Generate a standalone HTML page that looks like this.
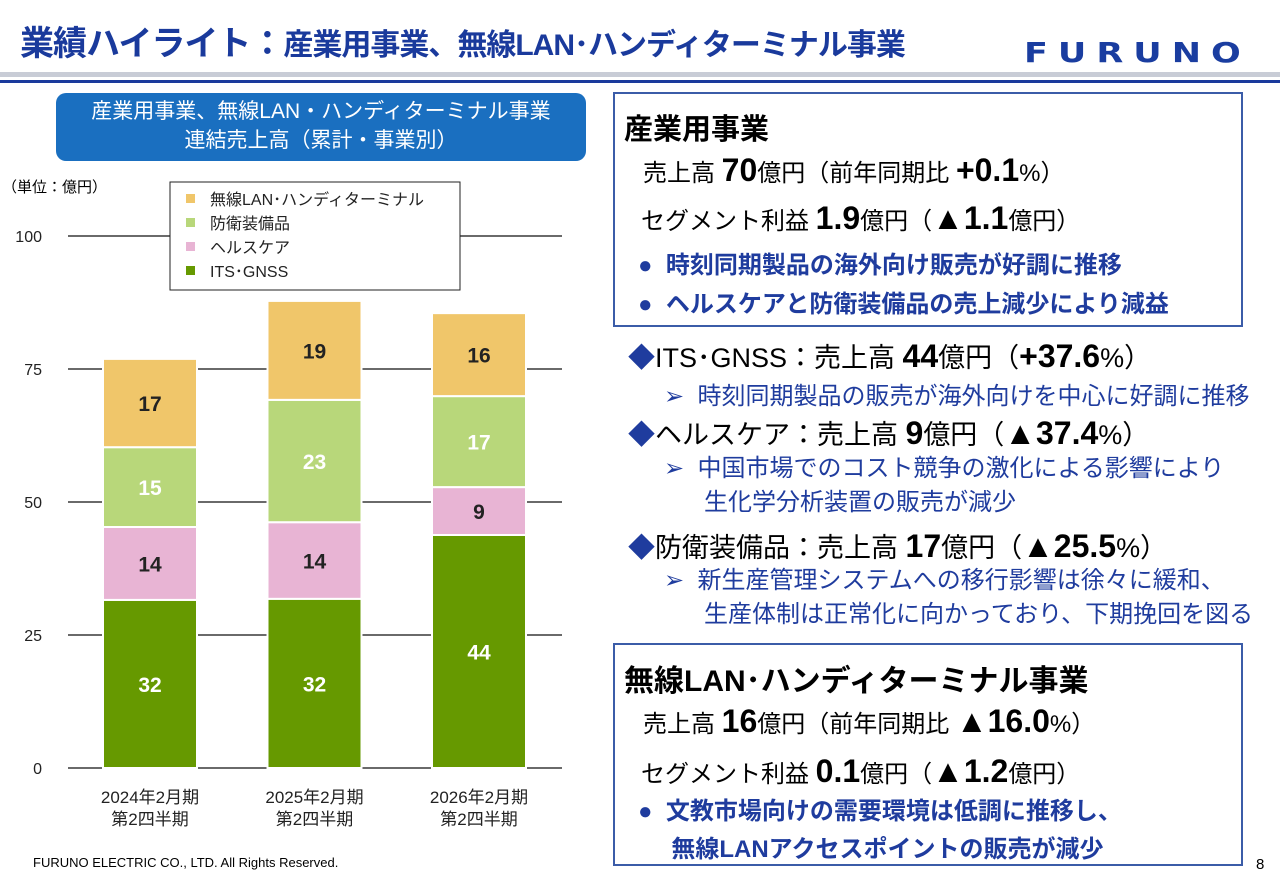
<!DOCTYPE html>
<html><head><meta charset="utf-8"><style>
body{margin:0;width:1280px;height:886px;background:#fff;position:relative;overflow:hidden;font-family:"Liberation Sans","Noto Sans CJK JP",sans-serif;}
.a{position:absolute;white-space:nowrap;}
.b{font-weight:bold;}
.blue{color:#1f3c9e;}
.big{font-size:32px;font-weight:bold;}
.box{position:absolute;border:2px solid #3b5ca8;box-sizing:border-box;}
</style></head><body>
<div class="a b blue" style="left:20px;top:16px;font-size:34px;color:#1a3a9c;letter-spacing:-1px;">業績ハイライト：<span style="font-size:30px">産業用事業、無線LAN･ハンディターミナル事業</span></div>
<div class="a" style="left:1024px;top:36px;font-size:28px;font-weight:900;color:#1a3da0;letter-spacing:8px;transform:scaleX(1.25);transform-origin:left;font-family:'DejaVu Sans',sans-serif;">FURUNO</div>
<div class="a" style="left:0;top:72px;width:1280px;height:5px;background:#c8ccd6"></div>
<div class="a" style="left:0;top:80px;width:1280px;height:3px;background:#1a3a9c"></div>

<div class="a" style="left:56px;top:93px;width:530px;height:68px;background:#1a6fc0;border-radius:10px;color:#fff;font-size:21px;text-align:center;line-height:29px;padding-top:4px;box-sizing:border-box;">産業用事業、無線LAN・ハンディターミナル事業<br>連結売上高（累計・事業別）</div>
<div class="a" style="left:2px;top:176px;font-size:15px;">（単位：億円）</div>

<svg class="a" style="left:0;top:0" width="610" height="850" id="chart"></svg>

<div class="a" style="left:33px;top:855px;font-size:13px;">FURUNO ELECTRIC CO., LTD. All Rights Reserved.</div>
<div class="a" style="left:1256px;top:856px;font-size:15px;">8</div>

<div class="box" style="left:613px;top:92px;width:630px;height:235px;"></div>
<div class="a b" style="left:624px;top:106px;font-size:29px;">産業用事業</div>
<div class="a" style="left:643px;top:152px;font-size:24px;">売上高 <span class="big">70</span>億円（前年同期比 <span class="big">+0.1</span>%）</div>
<div class="a" style="left:641px;top:200px;font-size:24px;">セグメント利益 <span class="big">1.9</span>億円（<span class="big">▲1.1</span>億円）</div>
<div class="a b blue" style="left:638px;top:245px;font-size:24px;">●&nbsp; 時刻同期製品の海外向け販売が好調に推移</div>
<div class="a b blue" style="left:638px;top:284px;font-size:24px;">●&nbsp; ヘルスケアと防衛装備品の売上減少により減益</div>

<div class="a" style="left:628px;top:336px;font-size:27px;"><span class="blue">◆</span>ITS･GNSS：売上高 <span class="big">44</span>億円（<span class="big">+37.6</span>%）</div>
<div class="a blue" style="left:664px;top:376px;font-size:24px;">➢&nbsp; 時刻同期製品の販売が海外向けを中心に好調に推移</div>
<div class="a" style="left:628px;top:413px;font-size:27px;"><span class="blue">◆</span>ヘルスケア：売上高 <span class="big">9</span>億円（<span class="big">▲37.4</span>%）</div>
<div class="a blue" style="left:664px;top:452px;font-size:24px;line-height:34px;">➢&nbsp; 中国市場でのコスト競争の激化による影響により<br>&nbsp;&nbsp;&nbsp;&nbsp;&nbsp; 生化学分析装置の販売が減少</div>
<div class="a" style="left:628px;top:526px;font-size:27px;"><span class="blue">◆</span>防衛装備品：売上高 <span class="big">17</span>億円（<span class="big">▲25.5</span>%）</div>
<div class="a blue" style="left:664px;top:564px;font-size:24px;line-height:34px;">➢&nbsp; 新生産管理システムへの移行影響は徐々に緩和、<br>&nbsp;&nbsp;&nbsp;&nbsp;&nbsp; 生産体制は正常化に向かっており、下期挽回を図る</div>

<div class="box" style="left:613px;top:643px;width:630px;height:223px;"></div>
<div class="a b" style="left:624px;top:656px;font-size:30px;">無線LAN･ハンディターミナル事業</div>
<div class="a" style="left:643px;top:703px;font-size:24px;">売上高 <span class="big">16</span>億円（前年同期比 <span class="big">▲16.0</span>%）</div>
<div class="a" style="left:641px;top:753px;font-size:24px;">セグメント利益 <span class="big">0.1</span>億円（<span class="big">▲1.2</span>億円）</div>
<div class="a b blue" style="left:638px;top:793px;font-size:24px;line-height:38px;">●&nbsp; 文教市場向けの需要環境は低調に推移し、<br>&nbsp;&nbsp;&nbsp;&nbsp; 無線LANアクセスポイントの販売が減少</div>

<script>
const categories=[["2024年2月期","第2四半期"],["2025年2月期","第2四半期"],["2026年2月期","第2四半期"]];
const seriesNames=["ITS･GNSS","ヘルスケア","防衛装備品","無線LAN･ハンディターミナル"];
const itsValues=[31.6,31.8,43.8];
const healthValues=[13.7,14.4,9.0];
const defenseValues=[15.0,23.0,17.1];
const wirelessValues=[16.6,18.6,15.6];
const yTicks=[0,25,50,75,100];
const colors=["#669900","#e8b4d4","#b8d77a","#f0c66a"];
const labelColors=["#fff","#222","#fff","#222"];
const series=[itsValues,healthValues,defenseValues,wirelessValues];
const NS="http://www.w3.org/2000/svg";
const svg=document.getElementById('chart');
const y0=768,pxPer=5.32;
const y=v=>y0-v*pxPer;
const x=i=>150+i*164.5;
const bw=94;
function mk(t,a){const e=document.createElementNS(NS,t);for(const k in a)e.setAttribute(k,a[k]);svg.appendChild(e);return e;}
yTicks.forEach(t=>{
  const l=mk('line',{x1:68,x2:562,y1:y(t),y2:y(t),stroke:'#111','stroke-width':1.3});
  
  
  const tx=mk('text',{x:42,y:y(t)+6,'text-anchor':'end','font-size':16,fill:'#222'});
  tx.textContent=t;
  
  
});
categories.forEach((c,i)=>{
  let acc=0;
  series.forEach((s,k)=>{
    const v=s[i];
    const top=y(acc+v),bot=y(acc);
    const r=mk('rect',{x:x(i)-bw/2,y:top,width:bw,height:bot-top,fill:colors[k],stroke:'#fff','stroke-width':2});
    
    
    const t=mk('text',{x:x(i),y:(top+bot)/2+8,'text-anchor':'middle','font-size':21,'font-weight':'bold',fill:labelColors[k]});
    t.textContent=Math.round(v);
    
    
    acc+=v;
  });
  c.forEach((ln,j)=>{
    const t=mk('text',{x:x(i),y:803+j*22,'text-anchor':'middle','font-size':17,fill:'#222'});
    t.textContent=ln;
    
    
  });
});
const lg=mk('rect',{x:170,y:182,width:290,height:108,fill:'#fff',stroke:'#222','stroke-width':1});


[3,2,1,0].forEach((k,j)=>{
  const r=mk('rect',{x:186,y:194+j*24,width:9,height:9,fill:colors[k]});
  
  
  const t=mk('text',{x:210,y:205+j*24,'font-size':16,fill:'#222'});
  t.textContent=seriesNames[k];
  
  
});
</script>
</body></html>
